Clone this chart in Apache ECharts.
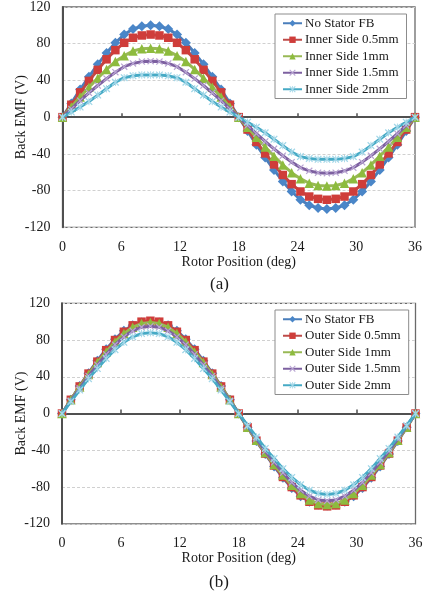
<!DOCTYPE html>
<html>
<head>
<meta charset="utf-8">
<script src="https://cdn.jsdelivr.net/npm/echarts@6/dist/echarts.min.js"></script>
<style>
  html, body { margin: 0; padding: 0; background: #fff; }
  #chart { width: 428px; height: 594px; }
</style>
</head>
<body>
<div id="chart"></div>
<script>
// Rotor position (deg), one electrical period
const rotorPos = [0,0.9,1.8,2.7,3.6,4.5,5.4,6.3,7.2,8.1,9,9.9,10.8,11.7,12.6,13.5,14.4,15.3,16.2,17.1,18,18.9,19.8,20.7,21.6,22.5,23.4,24.3,25.2,26.1,27,27.9,28.8,29.7,30.6,31.5,32.4,33.3,34.2,35.1,36];

// Back EMF (V) without stator flux barrier
const noStatorFB = [0,15,30,44,57.5,70,81,90,96,99,100,99,96,90,81,70,57.5,44,30,15,0,-15,-30,-44,-57.5,-70,-81,-90,-96,-99,-100,-99,-96,-90,-81,-70,-57.5,-44,-30,-15,0];

// Back EMF (V), barrier on the inner side
const innerSide05 = [0,13.5,27,39.5,51.5,63,73,81,86.5,89,90,89,86.5,81,73,63,51.5,39.5,27,13.5,0,-13.5,-27,-39.5,-51.5,-63,-73,-81,-86.5,-89,-90,-89,-86.5,-81,-73,-63,-51.5,-39.5,-27,-13.5,0];
const innerSide1 = [0,11,22,32.5,42.5,52,60.5,67,72,74.5,75,74.5,72,67,60.5,52,42.5,32.5,22,11,0,-11,-22,-32.5,-42.5,-52,-60.5,-67,-72,-74.5,-75,-74.5,-72,-67,-60.5,-52,-42.5,-32.5,-22,-11,0];
const innerSide15 = [0,9,18,26.5,34.5,42,49,55,58.5,60.5,61,60.5,58.5,55,49,42,34.5,26.5,18,9,0,-9,-18,-26.5,-34.5,-42,-49,-55,-58.5,-60.5,-61,-60.5,-58.5,-55,-49,-42,-34.5,-26.5,-18,-9,0];
const innerSide2 = [0,5.5,11,17,24,31,38,43,45,46,46,46,45,43,38,31,24,17,11,5.5,0,-5.5,-11,-17,-24,-31,-38,-43,-45,-46,-46,-46,-45,-43,-38,-31,-24,-17,-11,-5.5,0];

// Back EMF (V), barrier on the outer side
const outerSide05 = [0,15,29.5,43.5,56.5,69,80,89,96,100,101,100,96,89,80,69,56.5,43.5,29.5,15,0,-15,-29.5,-43.5,-56.5,-69,-80,-89,-96,-100,-101,-100,-96,-89,-80,-69,-56.5,-43.5,-29.5,-15,0];
const outerSide1 = [0,15,29,42.5,55.5,67,78,87,94,98,99,98,94,87,78,67,55.5,42.5,29,15,0,-15,-29,-42.5,-55.5,-67,-78,-87,-94,-98,-99,-98,-94,-87,-78,-67,-55.5,-42.5,-29,-15,0];
const outerSide15 = [0,14,27.5,41,53,64.5,75,83.5,90,94,95,94,90,83.5,75,64.5,53,41,27.5,14,0,-14,-27.5,-41,-53,-64.5,-75,-83.5,-90,-94,-95,-94,-90,-83.5,-75,-64.5,-53,-41,-27.5,-14,0];
const outerSide2 = [0,13,25.5,38,49,60,69.5,77.5,83.5,87,88,87,83.5,77.5,69.5,60,49,38,25.5,13,0,-13,-25.5,-38,-49,-60,-69.5,-77.5,-83.5,-87,-88,-87,-83.5,-77.5,-69.5,-60,-49,-38,-25.5,-13,0];

// Axis ticks
const xTicks = { min: 0, max: 36, interval: 6 };
const yTicks = { min: -120, max: 120, interval: 40 };

const innerNames = ['No Stator FB', 'Inner Side 0.5mm', 'Inner Side 1mm', 'Inner Side 1.5mm', 'Inner Side 2mm'];
const outerNames = ['No Stator FB', 'Outer Side 0.5mm', 'Outer Side 1mm', 'Outer Side 1.5mm', 'Outer Side 2mm'];

const FONT = '"Liberation Serif", "DejaVu Serif", serif';
const TEXT = '#1a1a1a';

const X_MARK = 'path://M0,1.2 L1.2,0 L5,3.8 L8.8,0 L10,1.2 L6.2,5 L10,8.8 L8.8,10 L5,6.2 L1.2,10 L0,8.8 L3.8,5 Z';
const STAR_MARK = 'path://M0,1.2 L1.2,0 L5,3.8 L8.8,0 L10,1.2 L6.2,5 L10,8.8 L8.8,10 L5,6.2 L1.2,10 L0,8.8 L3.8,5 Z M4.4,0 L5.6,0 L5.6,10 L4.4,10 Z';

const styles = [
  { line: '#4a7ebb', mark: '#4a86c8', symbol: 'diamond', size: 10 },
  { line: '#be4b48', mark: '#cf3d3a', symbol: 'rect', size: 8.5 },
  { line: '#98b954', mark: '#8dbb3e', symbol: 'triangle', size: 9.5 },
  { line: '#7d60a0', mark: '#b8a4d2', symbol: X_MARK, size: 7 },
  { line: '#46aac5', mark: '#a3d7e8', symbol: STAR_MARK, size: 7.5 }
];

function pairs(values) {
  return rotorPos.map((x, i) => [x, values[i]]);
}

function makeSeries(names, valueSets, idx) {
  return names.map((name, k) => ({
    name: name,
    type: 'line',
    xAxisIndex: idx,
    yAxisIndex: idx,
    data: pairs(valueSets[k]),
    symbol: styles[k].symbol,
    symbolSize: styles[k].size,
    showAllSymbol: true,
    lineStyle: { color: styles[k].line, width: 3 },
    itemStyle: { color: styles[k].mark },
    emphasis: { disabled: true },
    z: 2 + k
  }));
}

function xAxis(idx) {
  return {
    type: 'value', gridIndex: idx,
    min: xTicks.min, max: xTicks.max, interval: xTicks.interval,
    name: 'Rotor Position (deg)', nameLocation: 'middle', nameGap: 28,
    nameMoveOverlap: false,
    nameTextStyle: { fontFamily: FONT, fontSize: 14, color: TEXT },
    axisLine: { lineStyle: { color: '#505050', width: 2 } },
    axisTick: { show: true, inside: true, length: 4, lineStyle: { color: '#505050', width: 1.5 } },
    axisLabel: { fontFamily: FONT, fontSize: 14, color: TEXT, margin: 13 },
    splitLine: { show: false }
  };
}

function yAxis(idx) {
  return {
    type: 'value', gridIndex: idx,
    min: yTicks.min, max: yTicks.max, interval: yTicks.interval,
    name: 'Back EMF (V)', nameLocation: 'middle', nameGap: 34,
    nameMoveOverlap: false,
    nameTextStyle: { fontFamily: FONT, fontSize: 14, color: TEXT },
    axisLine: { lineStyle: { color: '#505050', width: 2 } },
    axisTick: { show: false },
    axisLabel: { fontFamily: FONT, fontSize: 14, color: TEXT, margin: 12 },
    splitLine: { show: true, lineStyle: { color: '#d0d0d0', type: [3, 2], width: 1 } }
  };
}

function legend(names, top) {
  return {
    data: names,
    orient: 'vertical',
    left: 275, top: top,
    width: 130,
    backgroundColor: '#fff',
    borderColor: '#8c8c8c', borderWidth: 1,
    padding: [2, 8, 2, 7],
    itemWidth: 19, itemHeight: 8, itemGap: 2,
    textStyle: { fontFamily: FONT, fontSize: 13, color: TEXT, lineHeight: 14.5, padding: [0, 0, 0, -2] },
    selectedMode: false
  };
}

const chart = echarts.init(document.getElementById('chart'), null, { renderer: 'canvas' });
chart.setOption({
  animation: false,
  backgroundColor: '#fff',
  grid: [
    { left: 62.5, right: 13, top: 6.3, height: 221, show: true, borderColor: '#6a6a6a', borderWidth: 1.3 },
    { left: 62, right: 12.5, top: 303.3, height: 220.5, show: true, borderColor: '#6a6a6a', borderWidth: 1.3 }
  ],
  xAxis: [xAxis(0), xAxis(1)],
  yAxis: [yAxis(0), yAxis(1)],
  legend: [legend(innerNames, 14), legend(outerNames, 310)],
  graphic: [
    { type: 'text', left: 210, top: 276, style: { text: '(a)', fontFamily: FONT, fontSize: 17, fill: TEXT } },
    { type: 'text', left: 209, top: 574, style: { text: '(b)', fontFamily: FONT, fontSize: 17, fill: TEXT } }
  ],
  series: [
    ...makeSeries(innerNames, [noStatorFB, innerSide05, innerSide1, innerSide15, innerSide2], 0),
    ...makeSeries(outerNames, [noStatorFB, outerSide05, outerSide1, outerSide15, outerSide2], 1)
  ]
});
</script>
</body>
</html>
